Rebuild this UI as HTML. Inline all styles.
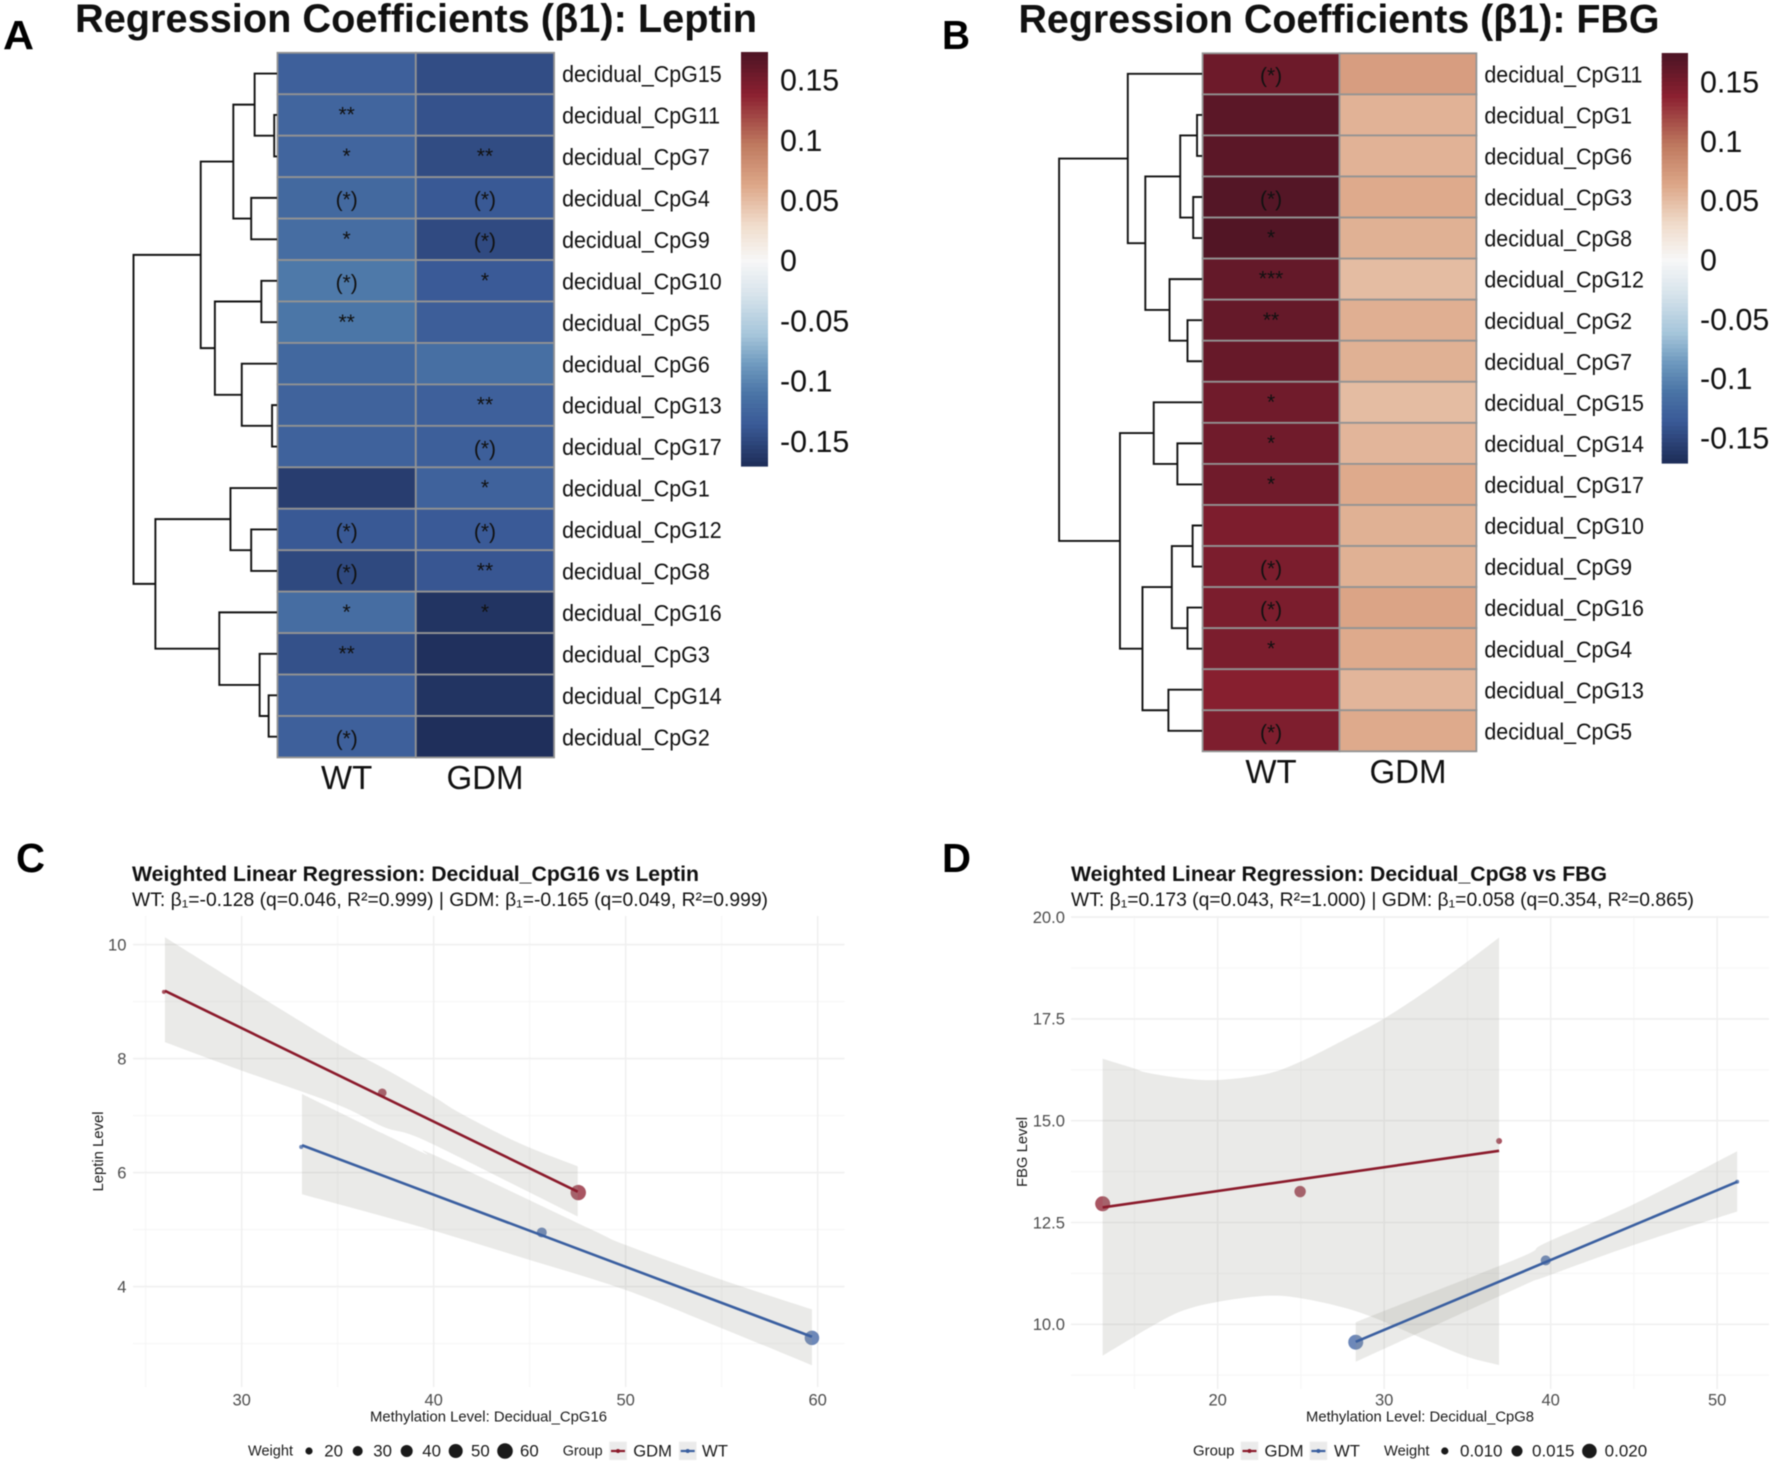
<!DOCTYPE html>
<html lang="en">
<head>
<meta charset="utf-8">
<title>Regression coefficients and weighted linear regressions</title>
<style>
  html,body{margin:0;padding:0;background:#fff;}
  svg{display:block;filter:blur(0.45px);}
  text{font-family:"Liberation Sans","DejaVu Sans",sans-serif;fill:#111;}
  .tick{fill:#4d4d4d;font-size:16.6px;}
  .axt{fill:#1a1a1a;font-size:14.5px;}
  .leg{fill:#1a1a1a;font-size:16.8px;}
  .legt{fill:#1a1a1a;font-size:15px;}
  .ttl{font-weight:700;font-size:40px;}
  .let{font-weight:700;font-size:41px;fill:#000;}
</style>
</head>
<body>
<svg id="fig" xmlns="http://www.w3.org/2000/svg" width="1772" height="1463" viewBox="0 0 1772 1463">
  <rect x="0" y="0" width="1772" height="1463" fill="#fff"/>

  <g id="panelA">
    <text class="let" x="3" y="49" textLength="31" lengthAdjust="spacingAndGlyphs">A</text>
    <text class="ttl" x="75" y="32" textLength="682" lengthAdjust="spacingAndGlyphs">Regression Coefficients (β1): Leptin</text>
  </g>
  <g id="panelB">
    <text class="let" x="942" y="49" textLength="28" lengthAdjust="spacingAndGlyphs">B</text>
    <text class="ttl" x="1018.5" y="32.5" textLength="641" lengthAdjust="spacingAndGlyphs">Regression Coefficients (β1): FBG</text>
  </g>

  <g id="panelC">
    <text class="let" x="16" y="872" textLength="29" lengthAdjust="spacingAndGlyphs">C</text>
    <text x="132" y="881" font-weight="700" font-size="21" textLength="567" lengthAdjust="spacingAndGlyphs">Weighted Linear Regression: Decidual_CpG16 vs Leptin</text>
    <text x="132" y="906" font-size="19.6" textLength="636" lengthAdjust="spacingAndGlyphs">WT: β₁=-0.128 (q=0.046, R²=0.999) | GDM: β₁=-0.165 (q=0.049, R²=0.999)</text>
    <text class="axt" x="370" y="1421.5" textLength="237" lengthAdjust="spacingAndGlyphs">Methylation Level: Decidual_CpG16</text>
    <text class="axt" transform="translate(103,1191.5) rotate(-90)" x="0" y="0" textLength="80" lengthAdjust="spacingAndGlyphs">Leptin Level</text>
    <g id="plotC"></g>
    <g>
      <text class="legt" x="248" y="1455.7" textLength="45" lengthAdjust="spacingAndGlyphs">Weight</text>
      <circle cx="309" cy="1451" r="3.6" fill="#1a1a1a"/>
      <text class="leg" x="324.3" y="1456.5">20</text>
      <circle cx="357.7" cy="1451" r="5" fill="#1a1a1a"/>
      <text class="leg" x="373.3" y="1456.5">30</text>
      <circle cx="406.7" cy="1451" r="6" fill="#1a1a1a"/>
      <text class="leg" x="422.3" y="1456.5">40</text>
      <circle cx="455.7" cy="1451" r="7" fill="#1a1a1a"/>
      <text class="leg" x="471" y="1456.5">50</text>
      <circle cx="505" cy="1451" r="7.8" fill="#1a1a1a"/>
      <text class="leg" x="520" y="1456.5">60</text>
      <text class="legt" x="562.7" y="1455.7" textLength="40" lengthAdjust="spacingAndGlyphs">Group</text>
      <rect x="609.3" y="1441.7" width="17.5" height="18.3" fill="#ebebeb"/>
      <line x1="611" y1="1451" x2="625" y2="1451" stroke="#8b1a2b" stroke-width="2.2"/>
      <circle cx="618" cy="1451" r="2" fill="#8b1a2b"/>
      <text class="leg" x="633.3" y="1456.5" textLength="38.6" lengthAdjust="spacingAndGlyphs">GDM</text>
      <rect x="679" y="1441.7" width="17.5" height="18.3" fill="#ebebeb"/>
      <line x1="680.7" y1="1451" x2="694.7" y2="1451" stroke="#3a5fa0" stroke-width="2.2"/>
      <circle cx="687.7" cy="1451" r="2" fill="#3a5fa0"/>
      <text class="leg" x="702" y="1456.5" textLength="26" lengthAdjust="spacingAndGlyphs">WT</text>
    </g>
  </g>

  <g id="panelD">
    <text class="let" x="942" y="872" textLength="29" lengthAdjust="spacingAndGlyphs">D</text>
    <text x="1071" y="881" font-weight="700" font-size="21" textLength="536" lengthAdjust="spacingAndGlyphs">Weighted Linear Regression: Decidual_CpG8 vs FBG</text>
    <text x="1071" y="906" font-size="19.6" textLength="623" lengthAdjust="spacingAndGlyphs">WT: β₁=0.173 (q=0.043, R²=1.000) | GDM: β₁=0.058 (q=0.354, R²=0.865)</text>
    <text class="axt" x="1306" y="1421.5" textLength="228" lengthAdjust="spacingAndGlyphs">Methylation Level: Decidual_CpG8</text>
    <text class="axt" transform="translate(1027,1187) rotate(-90)" x="0" y="0" textLength="70" lengthAdjust="spacingAndGlyphs">FBG Level</text>
    <g id="plotD"></g>
    <g>
      <text class="legt" x="1193" y="1455.7" textLength="41.5" lengthAdjust="spacingAndGlyphs">Group</text>
      <rect x="1240.8" y="1441.7" width="17.5" height="18.3" fill="#ebebeb"/>
      <line x1="1242.5" y1="1451" x2="1256.5" y2="1451" stroke="#8b1a2b" stroke-width="2.2"/>
      <circle cx="1249.5" cy="1451" r="2" fill="#8b1a2b"/>
      <text class="leg" x="1264.5" y="1456.5" textLength="39" lengthAdjust="spacingAndGlyphs">GDM</text>
      <rect x="1309.7" y="1441.7" width="17.5" height="18.3" fill="#ebebeb"/>
      <line x1="1311.4" y1="1451" x2="1325.4" y2="1451" stroke="#3a5fa0" stroke-width="2.2"/>
      <circle cx="1318.4" cy="1451" r="2" fill="#3a5fa0"/>
      <text class="leg" x="1334" y="1456.5" textLength="26" lengthAdjust="spacingAndGlyphs">WT</text>
      <text class="legt" x="1384" y="1455.7" textLength="45.5" lengthAdjust="spacingAndGlyphs">Weight</text>
      <circle cx="1444.8" cy="1451" r="3.6" fill="#1a1a1a"/>
      <text class="leg" x="1460" y="1456.5" textLength="42.5" lengthAdjust="spacingAndGlyphs">0.010</text>
      <circle cx="1517" cy="1451" r="5.5" fill="#1a1a1a"/>
      <text class="leg" x="1532" y="1456.5" textLength="42.5" lengthAdjust="spacingAndGlyphs">0.015</text>
      <circle cx="1589.4" cy="1451" r="7.3" fill="#1a1a1a"/>
      <text class="leg" x="1604.7" y="1456.5" textLength="42.5" lengthAdjust="spacingAndGlyphs">0.020</text>
    </g>
  </g>
</svg>

<script>
/* ---------- heatmap A data (Leptin) ---------- */
const rowLabelsA = ["decidual_CpG15","decidual_CpG11","decidual_CpG7","decidual_CpG4","decidual_CpG9","decidual_CpG10","decidual_CpG5","decidual_CpG6","decidual_CpG13","decidual_CpG17","decidual_CpG1","decidual_CpG12","decidual_CpG8","decidual_CpG16","decidual_CpG3","decidual_CpG14","decidual_CpG2"];
const columnLabels = ["WT","GDM"];
const wtValuesA  = [-0.130,-0.125,-0.125,-0.122,-0.118,-0.108,-0.110,-0.123,-0.127,-0.128,-0.158,-0.137,-0.149,-0.118,-0.143,-0.130,-0.130];
const gdmValuesA = [-0.146,-0.142,-0.147,-0.137,-0.148,-0.136,-0.132,-0.116,-0.130,-0.131,-0.128,-0.136,-0.139,-0.165,-0.168,-0.165,-0.170];
const wtMarksA   = ["","**","*","(*)","*","(*)","**","","","","","(*)","(*)","*","**","","(*)"];
const gdmMarksA  = ["","","**","(*)","(*)","*","","","**","(*)","*","(*)","**","*","","",""];
/* hclust-style merges: negative = 1-based leaf row, positive = 1-based earlier merge, third = height */
const mergesA = [[-2,-3,0.016],[-1,1,0.153],[-4,-5,0.177],[2,3,0.302],[-6,-7,0.106],[-9,-10,0.031],[-8,6,0.243],[5,7,0.431],[4,8,0.530],[-12,-13,0.177],[-11,10,0.322],[-16,-17,0.055],[-15,12,0.118],[-14,13,0.400],[11,14,0.847],[9,15,1.0]];

/* ---------- heatmap B data (FBG) ---------- */
const rowLabelsB = ["decidual_CpG11","decidual_CpG1","decidual_CpG6","decidual_CpG3","decidual_CpG8","decidual_CpG12","decidual_CpG2","decidual_CpG7","decidual_CpG15","decidual_CpG14","decidual_CpG17","decidual_CpG10","decidual_CpG9","decidual_CpG16","decidual_CpG4","decidual_CpG13","decidual_CpG5"];
const wtValuesB  = [0.155,0.165,0.165,0.169,0.170,0.160,0.159,0.158,0.153,0.153,0.153,0.146,0.147,0.147,0.147,0.140,0.145];
const gdmValuesB = [0.070,0.056,0.056,0.061,0.057,0.050,0.058,0.057,0.050,0.054,0.061,0.057,0.057,0.065,0.061,0.054,0.061];
const wtMarksB   = ["(*)","","","(*)","*","***","**","","*","*","*","","(*)","(*)","*","","(*)"];
const gdmMarksB  = ["","","","","","","","","","","","","","","","",""];
const mergesB = [[-2,-3,0.032],[-4,-5,0.059],[1,2,0.150],[-7,-8,0.099],[-6,4,0.225],[3,5,0.395],[-1,6,0.518],[-10,-11,0.170],[-9,8,0.336],[-12,-13,0.063],[-14,-15,0.099],[10,11,0.209],[-16,-17,0.233],[12,13,0.415],[9,14,0.573],[7,15,1.0]];

/* ---------- colour scale ---------- */
const colorStops  = [-0.175,-0.169,-0.136,-0.111,-0.086,-0.062,-0.028,0,0.030,0.063,0.096,0.138,0.171,0.175];
const colorValues = ["#1e2d58","#1f2f5b","#3a5a97","#4a74a6","#6f9abf","#a5c5da","#d8e4ec","#f7f7f7","#f0dccb","#dda788","#bf7a60","#8b2030","#501525","#4e1424"];
const colorbarTicks = [0.15,0.1,0.05,0,-0.05,-0.1,-0.15];
const colorbarTickLabels = ["0.15","0.1","0.05","0","-0.05","-0.1","-0.15"];

/* ---------- regression C data ---------- */
const cXMajor = [30,40,50,60];
const cXMinor = [25,35,45,55];
const cYMajor = [4,6,8,10];
const cYMinor = [3,5,7,9];
const cGdmPointX = [25.95,37.32,47.53];
const cGdmPointY = [9.17,7.40,5.65];
const cGdmWeight = [6,28,60];
const cWtPointX = [33.1,45.63,59.7];
const cWtPointY = [6.45,4.95,3.10];
const cWtWeight = [6,34,56];
const cGdmLineX = [26.0,47.5];
const cGdmLineY = [9.19,5.665];
const cWtLineX = [33.14,59.7];
const cWtLineY = [6.48,3.12];
const cGdmBandX = [26.0,30,34.8,37.4,40,41.4,44.5,47.5];
const cGdmBandUpper = [10.13,9.29,8.30,7.83,7.33,7.04,6.51,6.11];
const cGdmBandLowerX = [26.0,30,35,37.4,39.3,44,47.5];
const cGdmBandLower = [8.29,7.79,7.19,6.80,6.60,5.82,5.23];
const cWtBandX = [33.14,39.3,40,48.1,50,55,59.7];
const cWtBandUpper = [7.38,6.37,6.31,5.02,4.73,4.12,3.60];
const cWtBandLowerX = [33.14,39.3,44.5,50,55,59.7];
const cWtBandLower = [5.62,5.05,4.52,3.94,3.27,2.62];

/* ---------- regression D data ---------- */
const dXMajor = [20,30,40,50];
const dXMinor = [15,25,35,45];
const dYMajor = [10,12.5,15,17.5,20];
const dYMinor = [8.75,11.25,13.75,16.25,18.75];
const dYTickLabels = ["10.0","12.5","15.0","17.5","20.0"];
const dGdmPointX = [13.09,24.95,36.9];
const dGdmPointY = [12.96,13.26,14.50];
const dGdmWeight = [0.0205,0.0158,0.0087];
const dWtPointX = [28.29,39.7,51.2];
const dWtPointY = [9.56,11.57,13.5];
const dWtWeight = [0.0205,0.014,0.006];
const dGdmLineX = [13.09,36.9];
const dGdmLineY = [12.87,14.26];
const dWtLineX = [28.29,51.2];
const dWtLineY = [9.57,13.5];
const dGdmBandX = [13.09,15,15.74,17.74,20,22.94,24.98,27.75,30,32.76,35,36.9];
const dGdmBandUpper = [16.52,16.28,16.18,16.05,16.0,16.15,16.45,17.02,17.51,18.25,18.91,19.5];
const dGdmBandLower = [9.23,9.70,9.88,10.31,10.55,10.70,10.64,10.39,10.06,9.57,9.20,9.0];
const dWtBandX = [28.29,30,38.16,39.7,45,51.2];
const dWtBandUpper = [10.05,10.33,11.64,12.0,12.95,14.25];
const dWtBandLower = [9.08,9.40,10.92,11.17,11.95,12.77];

/* ---------- helpers ---------- */
const NS = "http://www.w3.org/2000/svg";
function add(parent, tag, attrs, txt){
  const n = document.createElementNS(NS, tag);
  for (const k in attrs) n.setAttribute(k, attrs[k]);
  if (txt !== undefined) n.textContent = txt;
  parent.appendChild(n);
  return n;
}
function hexRgb(h){ return [1,3,5].map(i => parseInt(h.substr(i,2),16)); }
function colorScale(v){
  if (v <= colorStops[0]) return colorValues[0];
  for (let i = 1; i < colorStops.length; i++){
    if (v <= colorStops[i]){
      const t = (v - colorStops[i-1]) / (colorStops[i] - colorStops[i-1]);
      const a = hexRgb(colorValues[i-1]), b = hexRgb(colorValues[i]);
      return "rgb(" + a.map((c,j) => Math.round(c + (b[j]-c)*t)).join(",") + ")";
    }
  }
  return colorValues[colorValues.length-1];
}
/* Catmull-Rom smoothing through a list of [x,y] screen points; returns path segments */
function smoothSegments(pts){
  let d = "";
  for (let i = 0; i < pts.length - 1; i++){
    const p0 = pts[Math.max(i-1,0)], p1 = pts[i], p2 = pts[i+1], p3 = pts[Math.min(i+2,pts.length-1)];
    const c1x = p1[0] + (p2[0]-p0[0])/6, c1y = p1[1] + (p2[1]-p0[1])/6;
    const c2x = p2[0] - (p3[0]-p1[0])/6, c2y = p2[1] - (p3[1]-p1[1])/6;
    d += "C" + c1x + " " + c1y + " " + c2x + " " + c2y + " " + p2[0] + " " + p2[1];
  }
  return d;
}

function drawHeatmap(root, cfg){
  const rowY = i => cfg.top + cfg.rowH * i;
  const colX = j => cfg.left + cfg.colW * j;

  cfg.labels.forEach((lab, i) => {
    [cfg.wt, cfg.gdm].forEach((vals, j) => {
      const cell = add(root, "rect", {x: colX(j), y: rowY(i), width: cfg.colW, height: cfg.rowH, fill: colorScale(vals[i]), stroke: "#939393", "stroke-width": 1.8});
      
      
    });
    [cfg.wtMarks, cfg.gdmMarks].forEach((marks, j) => {
      if (!marks[i]) return;
      const off = marks[i].charAt(0) === "(" ? 8.8 : 6.6;
      const m = add(root, "text", {x: colX(j) + cfg.colW/2, y: rowY(i) + cfg.rowH/2 + off, "text-anchor": "middle", "font-size": 21}, marks[i]);
      
      
    });
    const lx = cfg.left + cfg.colW*2 + 8, ly = rowY(i) + cfg.rowH/2 + 8.6;
    const rl = add(root, "text", {transform: "translate(" + lx + "," + ly + ") scale(0.94,1)", "font-size": 22.8}, lab);
    
    
  });

  columnLabels.forEach((lab, j) => {
    const cl = add(root, "text", {x: colX(j) + cfg.colW/2, y: cfg.colLabelY, "text-anchor": "middle", "font-size": 33}, lab);
    
    
  });

  /* dendrogram */
  const hx = h => cfg.left - 1 - h * cfg.dendroW;
  const nodes = [];
  const child = c => c < 0 ? {x: cfg.left - 0.5, y: rowY(-c-1) + cfg.rowH/2} : nodes[c-1];
  cfg.merges.forEach(mg => {
    const a = child(mg[0]), b = child(mg[1]), x = hx(mg[2]);
    const d = "M" + a.x + " " + a.y + "H" + x + "V" + b.y + "H" + b.x;
    const p = add(root, "path", {d: d, fill: "none", stroke: "#111", "stroke-width": 1.9});
    
    
    nodes.push({x: x, y: (a.y + b.y)/2});
  });

  /* colour bar */
  const barY = v => cfg.barZero - v * cfg.barPerUnit;
  const vTop = (cfg.barZero - cfg.barTop) / cfg.barPerUnit;
  const vBot = (cfg.barZero - cfg.barBottom) / cfg.barPerUnit;
  const bins = 100;
  for (let i = 0; i < bins; i++){
    const v0 = vTop + (vBot - vTop) * i / bins, v1 = vTop + (vBot - vTop) * (i + 1) / bins;
    const r = add(root, "rect", {x: cfg.barX, y: barY(v0), width: cfg.barW, height: barY(v1) - barY(v0) + 0.6, fill: colorScale((v0 + v1)/2)});
    
    
  }
  colorbarTicks.forEach((t, i) => {
    const tx = add(root, "text", {x: cfg.barLabelX, y: barY(t) + 10.5, "font-size": 30.4}, colorbarTickLabels[i]);
    
    
  });
}

function drawRegression(root, cfg){
  const X = v => cfg.x0 + (v - cfg.xv0) * cfg.xk;
  const Y = v => cfg.y0 + (cfg.yv0 - v) * cfg.yk;
  const grid = (vals, isX, color, w) => vals.forEach(v => {
    const attrs = isX
      ? {x1: X(v), x2: X(v), y1: cfg.top, y2: cfg.bottom}
      : {x1: cfg.left, x2: cfg.right, y1: Y(v), y2: Y(v)};
    attrs.stroke = color;
    attrs["stroke-width"] = w;
    const l = add(root, "line", attrs);
    
    
  });
  grid(cfg.xMinor, true, "#f6f6f6", 1.1);
  grid(cfg.yMinor, false, "#f6f6f6", 1.1);
  grid(cfg.xMajor, true, "#f0f0f0", 1.6);
  grid(cfg.yMajor, false, "#f0f0f0", 1.6);

  cfg.xMajor.forEach(v => {
    const t = add(root, "text", {class: "tick", x: X(v), y: 1405.7, "text-anchor": "middle"}, String(v));
    
    
  });
  cfg.yMajor.forEach((v, i) => {
    const t = add(root, "text", {class: "tick", x: cfg.yTickX, y: Y(v) + 5.8, "text-anchor": "end"}, cfg.yLabels[i]);
    
    
  });

  cfg.series.forEach(s => {
    s.px.forEach((px, i) => {
      const c = add(root, "circle", {cx: X(px), cy: Y(s.py[i]), r: cfg.radius(s.w[i]), fill: s.color, "fill-opacity": 0.74});
      
      
    });
  });
  cfg.series.forEach(s => {
    const up = s.bandX.map((x, i) => [X(x), Y(s.upper[i])]);
    const lo = s.lowX.map((x, i) => [X(x), Y(s.lower[i])]).reverse();
    const d = "M" + up[0][0] + " " + up[0][1] + smoothSegments(up) + "L" + lo[0][0] + " " + lo[0][1] + smoothSegments(lo) + "Z";
    const b = add(root, "path", {d: d, fill: "#98988f", "fill-opacity": 0.205});
    
    
  });
  cfg.series.forEach(s => {
    const l = add(root, "line", {x1: X(s.lx[0]), y1: Y(s.ly[0]), x2: X(s.lx[1]), y2: Y(s.ly[1]), stroke: s.color, "stroke-width": 2.6});
    
    
  });
}

/* ---------- draw ---------- */
drawHeatmap(document.getElementById("panelA"), {
  labels: rowLabelsA, wt: wtValuesA, gdm: gdmValuesA, wtMarks: wtMarksA, gdmMarks: gdmMarksA, merges: mergesA,
  left: 277.5, top: 52.8, colW: 138.3, rowH: 41.45, colLabelY: 789, dendroW: 143,
  barX: 741, barW: 27, barTop: 52, barBottom: 466, barZero: 260.7, barPerUnit: 1204, barLabelX: 780
});
drawHeatmap(document.getElementById("panelB"), {
  labels: rowLabelsB, wt: wtValuesB, gdm: gdmValuesB, wtMarks: wtMarksB, gdmMarks: gdmMarksB, merges: mergesB,
  left: 1202.6, top: 53.3, colW: 136.9, rowH: 41.06, colLabelY: 783, dendroW: 142.5,
  barX: 1661.7, barW: 26.3, barTop: 53, barBottom: 463, barZero: 260, barPerUnit: 1186, barLabelX: 1700
});

drawRegression(document.getElementById("plotC"), {
  x0: 241.7, xv0: 30, xk: 19.2, y0: 944.6, yv0: 10, yk: 57,
  left: 133, right: 844.5, top: 916, bottom: 1387, yTickX: 126.5,
  xMajor: cXMajor, xMinor: cXMinor, yMajor: cYMajor, yMinor: cYMinor,
  yLabels: cYMajor.map(String),
  radius: w => 1.4 + 0.105 * w,
  series: [
    {name: "gdm", color: "#8b1a2b", px: cGdmPointX, py: cGdmPointY, w: cGdmWeight, lx: cGdmLineX, ly: cGdmLineY, bandX: cGdmBandX, upper: cGdmBandUpper, lowX: cGdmBandLowerX, lower: cGdmBandLower},
    {name: "wt", color: "#3a5fa0", px: cWtPointX, py: cWtPointY, w: cWtWeight, lx: cWtLineX, ly: cWtLineY, bandX: cWtBandX, upper: cWtBandUpper, lowX: cWtBandLowerX, lower: cWtBandLower}
  ]
});
drawRegression(document.getElementById("plotD"), {
  x0: 1217.7, xv0: 20, xk: 16.65, y0: 1324.3, yv0: 10, yk: 40.72,
  left: 1071, right: 1769, top: 916, bottom: 1389, yTickX: 1065,
  xMajor: dXMajor, xMinor: dXMinor, yMajor: dYMajor, yMinor: dYMinor,
  yLabels: dYTickLabels,
  radius: w => 3.5 + 380 * (w - 0.01),
  series: [
    {name: "gdm", color: "#8b1a2b", px: dGdmPointX, py: dGdmPointY, w: dGdmWeight, lx: dGdmLineX, ly: dGdmLineY, bandX: dGdmBandX, upper: dGdmBandUpper, lowX: dGdmBandX, lower: dGdmBandLower},
    {name: "wt", color: "#3a5fa0", px: dWtPointX, py: dWtPointY, w: dWtWeight, lx: dWtLineX, ly: dWtLineY, bandX: dWtBandX, upper: dWtBandUpper, lowX: dWtBandX, lower: dWtBandLower}
  ]
});
</script>
</body>
</html>
